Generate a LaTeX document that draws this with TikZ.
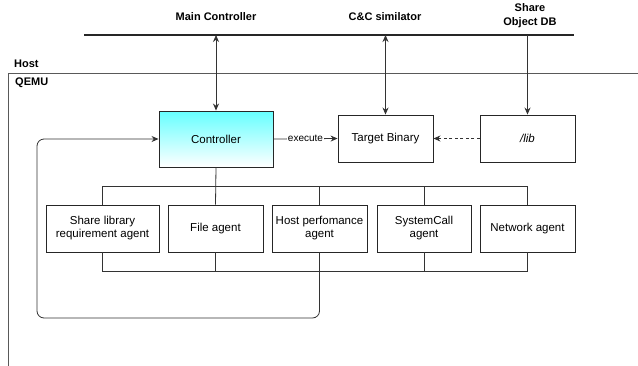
\documentclass[tikz,border=0pt]{standalone}
\usepackage{fontspec}
\setmainfont{Liberation Sans}
\usetikzlibrary{arrows.meta,calc}
\begin{document}
\begin{tikzpicture}[x=1pt,y=-1pt,
  box/.style={draw=black!85,line width=0.9pt,minimum height=47pt,inner sep=1pt,align=center,font=\fontsize{11.5}{13}\selectfont},
  toplabel/.style={font=\fontsize{11}{13}\selectfont\bfseries,align=center},
  conn/.style={draw=black!80,line width=0.8pt},
  tip/.style={-{Stealth[length=7pt,width=6pt]}},
  dtip/.style={{Stealth[length=7pt,width=6pt]}-{Stealth[length=7pt,width=6pt]}}]
\useasboundingbox (0,0) rectangle (638,365);
\fill[white] (0,0) rectangle (638,365);
% host / qemu frame
\coordinate (qtl) at (8,73);
\coordinate (qtr) at (640,73);
\coordinate (qbl) at (8,367);
\draw[black!65,line width=0.9pt] (qbl) -- (qtl) -- (qtr);
\node[anchor=west,font=\fontsize{11}{13}\selectfont\bfseries,inner sep=0pt] (host) at (14,64) {Host};
\node[anchor=west,font=\fontsize{11}{13}\selectfont\bfseries,inner sep=0pt] (qemu) at (15,83) {QEMU};
% top bus
\coordinate (busL) at (84,35);
\coordinate (busR) at (574,35);
\draw[black!85,line width=2pt] (busL) -- (busR);
\node[toplabel] (mc) at (216,17) {Main Controller};
\node[toplabel] (cc) at (385,17) {C\&C similator};
\node[toplabel,font=\fontsize{11}{14}\selectfont\bfseries] (sodb) at (530,16) {Share\\Object DB};
% boxes
\node[box,minimum width=114pt,minimum height=56pt,top color=cyan!60,bottom color=white] (ctrl) at (216,139) {Controller};
\node[box,minimum width=95pt] (tb) at (385.5,138.5) {Target Binary};
\node[box,minimum width=95pt,font=\fontsize{11.5}{13}\selectfont\itshape] (lib) at (527.5,138.5) {/lib};
\node[box,minimum width=113pt] (sl) at (102.5,228.5) {Share library\\requirement agent};
\node[box,minimum width=95pt] (fa) at (215.5,228.5) {File agent};
\node[box,minimum width=95pt] (hp) at (319.5,228.5) {Host perfomance\\agent};
\node[box,minimum width=94pt] (sc) at (424,228.5) {SystemCall\\agent};
\node[box,minimum width=95pt] (na) at (527.5,228.5) {Network agent};
% vertical arrows from bus
\draw[conn,dtip] (ctrl.north |- busL) -- (ctrl.north);
\draw[conn,dtip] (tb.north |- busL) -- (tb.north);
\draw[conn,tip] (lib.north |- busL) -- (lib.north);
% execute and dashed
\draw[conn,tip] (ctrl.east) -- node[fill=white,inner sep=1pt,font=\fontsize{10}{12}\selectfont] (ex) {execute} (tb.west);
\draw[conn,tip,dashed,dash pattern=on 3pt off 2.5pt] (lib.west) -- (tb.east);
% top agent bus
\coordinate (tbus) at (0,186);
\coordinate (bbus) at (0,271);
\draw[conn] (sl.north) -- (sl.north |- tbus) -- (na.north |- tbus) -- (na.north);
\draw[conn] (ctrl.south) -- (fa.north);
\draw[conn] (hp.north) -- (hp.north |- tbus);
\draw[conn] (sc.north) -- (sc.north |- tbus);
% bottom agent bus
\draw[conn] (sl.south) -- (sl.south |- bbus) -- (na.south |- bbus) -- (na.south);
\draw[conn] (fa.south) -- (fa.south |- bbus);
\draw[conn] (sc.south) -- (sc.south |- bbus);
% feedback loop
\coordinate (lb) at (37,318);
\draw[conn,tip,rounded corners=7pt] (hp.south) |- (lb) |- (ctrl.west);
\end{tikzpicture}
\end{document}
